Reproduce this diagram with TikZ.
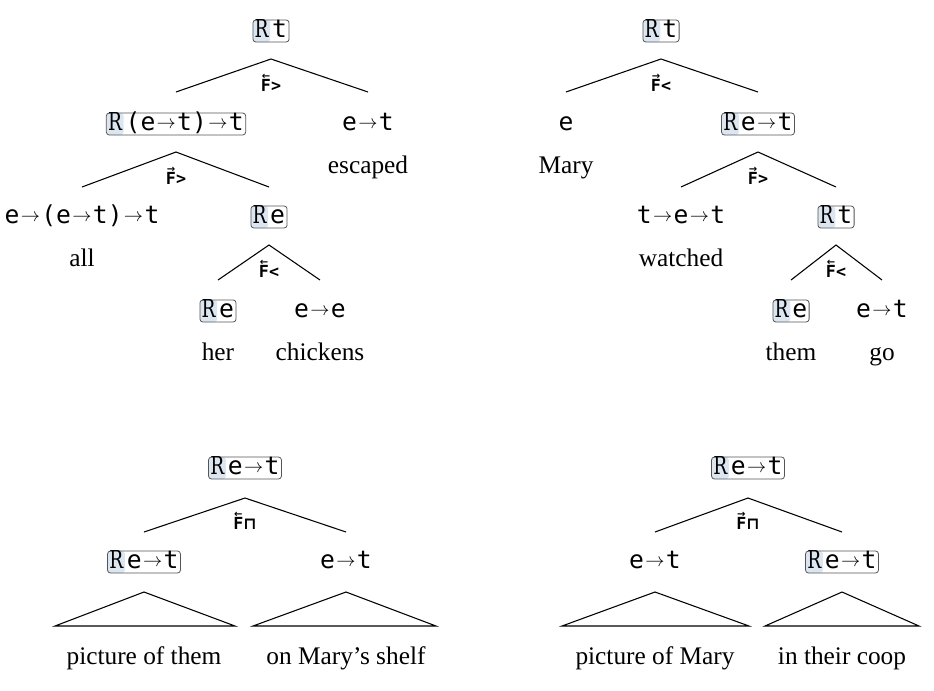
\documentclass[tikz,border=0pt]{standalone}
\usepackage{fontspec}
\usepackage{amsmath}
\setmainfont{Liberation Serif}
\newfontfamily\tyfont{DejaVu Sans Mono}
\newfontfamily\rserif{DejaVu Serif}[FakeStretch=0.75]
\newfontfamily\lbfont{DejaVu Sans Mono}
\newfontfamily\sqfont{DejaVu Sans}
\definecolor{rblue}{HTML}{DCE6F1}
\definecolor{bordergray}{HTML}{555555}
\newcommand\To{\kern1pt\raisebox{1.3pt}{\fontsize{14}{14}\selectfont$\to$}\kern1pt}
\newcommand\Rmark{\makebox[10pt][c]{\rserif R}\hspace{3pt}}
\newcommand\OverArr[1]{\leavevmode\vbox{\offinterlineskip\halign{\hfil##\hfil\cr{\sqfont\fontsize{7.5}{7.5}\selectfont #1}\cr\noalign{\kern-0.2pt}F\cr}}}
\newcommand\Fl{\OverArr{←}}
\newcommand\Fr{\OverArr{→}}
\newcommand\Sq{{\sqfont\bfseries ⊓}}
\tikzset{
  ty/.style={font=\tyfont\fontsize{18.5}{20}\selectfont, inner sep=0pt, text height=12pt, text depth=2.5pt},
  rbox/.style={ty, draw=bordergray, line width=0.6pt, rounded corners=2.2pt, inner xsep=1.5pt, inner ysep=1pt,
    path picture={\fill[rblue] (path picture bounding box.south west) rectangle ([xshift=13pt]path picture bounding box.north west);}},
  word/.style={font=\fontsize{19}{22}\selectfont, inner sep=0pt, text height=13pt, text depth=4pt},
  lab/.style={font=\lbfont\bfseries\fontsize{12.5}{14}\selectfont, inner sep=0pt},
  branch/.style={line width=0.8pt, black},
}
\begin{document}
\begin{tikzpicture}[x=0.75pt,y=-0.75pt]
\useasboundingbox (0,0) rectangle (934,690);
% ===== Tree 1 =====
\node[rbox] (a0) at (271,31) {\Rmark t};
\coordinate (a0p) at (271,59);
\coordinate (a0l) at (176,92);
\coordinate (a0r) at (368,92);
\draw[branch] (a0l) -- (a0p) -- (a0r);
\node[lab] (a0f) at (271,83) {\Fl >};
\node[rbox] (a1) at (176,124) {\Rmark (e\To t)\To t};
\node[ty] (a2) at (368,124) {e\To t};
\node[word] (a2w) at (368,167) {escaped};
\coordinate (a1p) at (176,152);
\coordinate (a1l) at (82,187);
\coordinate (a1r) at (269,187);
\draw[branch] (a1l) -- (a1p) -- (a1r);
\node[lab] (a1f) at (176,176) {\Fr >};
\node[ty] (a3) at (82,217) {e\To (e\To t)\To t};
\node[word] (a3w) at (82,260) {all};
\node[rbox] (a4) at (269,217) {\Rmark e};
\coordinate (a4p) at (269,245);
\coordinate (a4l) at (218,280);
\coordinate (a4r) at (320,280);
\draw[branch] (a4l) -- (a4p) -- (a4r);
\node[lab] (a4f) at (269,269) {\Fl <};
\node[rbox] (a5) at (218,311) {\Rmark e};
\node[word] (a5w) at (218,354) {her};
\node[ty] (a6) at (320,311) {e\To e};
\node[word] (a6w) at (320,354) {chickens};
% ===== Tree 2 =====
\node[rbox] (b0) at (661,31) {\Rmark t};
\coordinate (b0p) at (661,59);
\coordinate (b0l) at (566,92);
\coordinate (b0r) at (758,92);
\draw[branch] (b0l) -- (b0p) -- (b0r);
\node[lab] (b0f) at (661,83) {\Fr <};
\node[ty] (b1) at (566,124) {e};
\node[word] (b1w) at (566,167) {Mary};
\node[rbox] (b2) at (758,124) {\Rmark e\To t};
\coordinate (b2p) at (758,152);
\coordinate (b2l) at (681,187);
\coordinate (b2r) at (836,187);
\draw[branch] (b2l) -- (b2p) -- (b2r);
\node[lab] (b2f) at (758,176) {\Fr >};
\node[ty] (b3) at (681,217) {t\To e\To t};
\node[word] (b3w) at (681,260) {watched};
\node[rbox] (b4) at (836,217) {\Rmark t};
\coordinate (b4p) at (836,245);
\coordinate (b4l) at (791,280);
\coordinate (b4r) at (882,280);
\draw[branch] (b4l) -- (b4p) -- (b4r);
\node[lab] (b4f) at (836,269) {\Fl <};
\node[rbox] (b5) at (791,311) {\Rmark e};
\node[word] (b5w) at (791,354) {them};
\node[ty] (b6) at (882,311) {e\To t};
\node[word] (b6w) at (882,354) {go};
% ===== Tree 3 =====
\node[rbox] (c0) at (245,468) {\Rmark e\To t};
\coordinate (c0p) at (245,498);
\coordinate (c0l) at (144,532);
\coordinate (c0r) at (346,532);
\draw[branch] (c0l) -- (c0p) -- (c0r);
\node[lab] (c0f) at (245,521) {\Fl\Sq};
\node[rbox] (c1) at (144,562) {\Rmark e\To t};
\node[ty] (c2) at (346,562) {e\To t};
\coordinate (c1p) at (144,592);
\coordinate (c1l) at (55,626);
\coordinate (c1r) at (235,626);
\draw[branch] (c1p) -- (c1l) -- (c1r) -- cycle;
\coordinate (c2p) at (346,592);
\coordinate (c2l) at (253,626);
\coordinate (c2r) at (436,626);
\draw[branch] (c2p) -- (c2l) -- (c2r) -- cycle;
\node[word] (c1w) at (144,658) {picture of them};
\node[word] (c2w) at (346,658) {on Mary’s shelf};
% ===== Tree 4 =====
\node[rbox] (d0) at (748,468) {\Rmark e\To t};
\coordinate (d0p) at (748,498);
\coordinate (d0l) at (655,532);
\coordinate (d0r) at (842,532);
\draw[branch] (d0l) -- (d0p) -- (d0r);
\node[lab] (d0f) at (748,521) {\Fr\Sq};
\node[ty] (d1) at (655,562) {e\To t};
\node[rbox] (d2) at (842,562) {\Rmark e\To t};
\coordinate (d1p) at (655,592);
\coordinate (d1l) at (562,626);
\coordinate (d1r) at (749,626);
\draw[branch] (d1p) -- (d1l) -- (d1r) -- cycle;
\coordinate (d2p) at (842,592);
\coordinate (d2l) at (765,626);
\coordinate (d2r) at (919,626);
\draw[branch] (d2p) -- (d2l) -- (d2r) -- cycle;
\node[word] (d1w) at (655,658) {picture of Mary};
\node[word] (d2w) at (842,658) {in their coop};
\end{tikzpicture}
\end{document}
